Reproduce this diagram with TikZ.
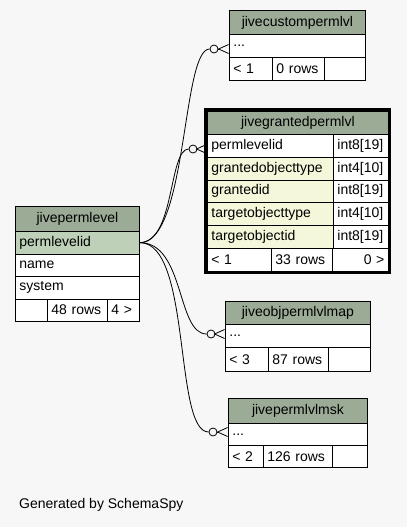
\documentclass[tikz,border=0pt]{standalone}
\usepackage{fontspec}
\setmainfont{Liberation Sans}
\usepackage{tikz}
\usetikzlibrary{arrows.meta}

\definecolor{bgcol}{HTML}{F7F7F7}
\definecolor{headcol}{HTML}{9BAB96}
\definecolor{selcol}{HTML}{BED1B8}
\definecolor{idxcol}{HTML}{F4F7DA}

\begin{document}
\begin{tikzpicture}[x=1pt, y=-1pt, font=\fontsize{14}{16}\selectfont,
    every node/.style={anchor=north west, inner xsep=4pt, inner ysep=0pt},
    cell/.style={draw=black, line width=0.8pt, fill=white, align=left},
    head/.style={cell, fill=headcol, align=center},
    ring/.style={circle, draw=black, fill=bgcol, line width=0.8pt, minimum size=8pt, inner sep=0pt, anchor=center},
    crow/.style={line width=0.8pt, -{Straight Barb[reversed, length=10pt, width=9pt]}},
    link/.style={line width=0.8pt}]
    \fill[bgcol] (0,0) rectangle (407,527);
    \useasboundingbox (0,0) rectangle (407,527);

    % jivepermlevel
    \node (perm-head) [head, text width=116pt, minimum height=25pt] at (15,206) {jivepermlevel};
    \node (perm-id) [cell, fill=selcol, text width=116pt, minimum height=22.5pt] at (15,231) {permlevelid};
    \node (perm-name) [cell, text width=116pt, minimum height=22.5pt] at (15,253.5) {name};
    \node (perm-sys) [cell, text width=116pt, minimum height=22.5pt] at (15,276) {system};
    \node (perm-f1) [cell, text width=24pt, minimum height=22.5pt] at (15,298.5) {};
    \node (perm-f2) [cell, text width=52pt, minimum height=22.5pt] at (47,298.5) {48 rows};
    \node (perm-f3) [cell, text width=24pt, minimum height=22.5pt] at (107,298.5) {4 >};

    % jivecustompermlvl
    \node (cust-head) [head, text width=128pt, minimum height=24pt] at (229,10) {jivecustompermlvl};
    \node (cust-row) [cell, text width=128pt, minimum height=23pt] at (229,34) {...};
    \node (cust-f1) [cell, text width=35pt, minimum height=23pt] at (229,57) {< 1};
    \node (cust-f2) [cell, text width=44pt, minimum height=23pt] at (272,57) {0 rows};
    \node (cust-f3) [cell, text width=33pt, minimum height=23pt] at (324,57) {};

    % jivegrantedpermlvl
    \draw[line width=3pt] (205.5,109) rectangle (389.5,272.5);
    \node (grant-head) [head, text width=173pt, minimum height=23pt] at (207,111) {jivegrantedpermlvl};
    \node (grant-id) [cell, text width=118pt, minimum height=23pt] at (207,134) {permlevelid};
    \node (grant-id-t) [cell, text width=47pt, minimum height=23pt] at (333,134) {int8[19]};
    \node (grant-got) [cell, fill=idxcol, text width=118pt, minimum height=22.5pt] at (207,157) {grantedobjecttype};
    \node (grant-got-t) [cell, text width=47pt, minimum height=22.5pt] at (333,157) {int4[10]};
    \node (grant-gid) [cell, fill=idxcol, text width=118pt, minimum height=22.5pt] at (207,179.5) {grantedid};
    \node (grant-gid-t) [cell, text width=47pt, minimum height=22.5pt] at (333,179.5) {int8[19]};
    \node (grant-tot) [cell, fill=idxcol, text width=118pt, minimum height=23pt] at (207,202) {targetobjecttype};
    \node (grant-tot-t) [cell, text width=47pt, minimum height=23pt] at (333,202) {int4[10]};
    \node (grant-tid) [cell, fill=idxcol, text width=118pt, minimum height=23pt] at (207,225) {targetobjectid};
    \node (grant-tid-t) [cell, text width=47pt, minimum height=23pt] at (333,225) {int8[19]};
    \node (grant-f1) [cell, text width=56pt, minimum height=23pt] at (207,248) {< 1};
    \node (grant-f2) [cell, text width=53pt, minimum height=23pt] at (271,248) {33 rows};
    \node (grant-f3) [cell, align=right, text width=48pt, minimum height=23pt] at (332,248) {0 >};

    % jiveobjpermlvlmap
    \node (map-head) [head, text width=137pt, minimum height=23pt] at (225,301) {jiveobjpermlvlmap};
    \node (map-row) [cell, text width=137pt, minimum height=23pt] at (225,324) {...};
    \node (map-f1) [cell, text width=35pt, minimum height=24pt] at (225,347) {< 3};
    \node (map-f2) [cell, text width=52pt, minimum height=24pt] at (268,347) {87 rows};
    \node (map-f3) [cell, text width=34pt, minimum height=24pt] at (328,347) {};

    % jivepermlvlmsk
    \node (msk-head) [head, text width=131pt, minimum height=25pt] at (228,398) {jivepermlvlmsk};
    \node (msk-row) [cell, text width=131pt, minimum height=22pt] at (228,423) {...};
    \node (msk-f1) [cell, text width=27pt, minimum height=22pt] at (228,445) {< 2};
    \node (msk-f2) [cell, text width=61pt, minimum height=22pt] at (263,445) {126 rows};
    \node (msk-f3) [cell, text width=27pt, minimum height=22pt] at (332,445) {};

    % relationships
    \node (cust-o) [ring] at (214,49) {};
    \node (grant-o) [ring] at (193,149) {};
    \node (map-o) [ring] at (211,334) {};
    \node (msk-o) [ring] at (213,432) {};

    \draw[link] (perm-id.east) .. controls +(48,0) and +(-28,0) .. (cust-o.west);
    \draw[link] (perm-id.east) .. controls +(35,0) and +(-20,0) .. (grant-o.west);
    \draw[link] (perm-id.east) .. controls +(45,0) and +(-30,0) .. (map-o.west);
    \draw[link] (perm-id.east) .. controls +(52,0) and +(-35,0) .. (msk-o.west);

    \draw[crow] (cust-o.east) -- (cust-o.east -| cust-row.west);
    \draw[crow] (grant-o.east) -- (grant-o.east -| grant-id.west);
    \draw[crow] (map-o.east) -- (map-o.east -| map-row.west);
    \draw[crow] (msk-o.east) -- (msk-o.east -| msk-row.west);

    \node (credit) [anchor=west] at (15,505) {Generated by SchemaSpy};
\end{tikzpicture}
\end{document}
